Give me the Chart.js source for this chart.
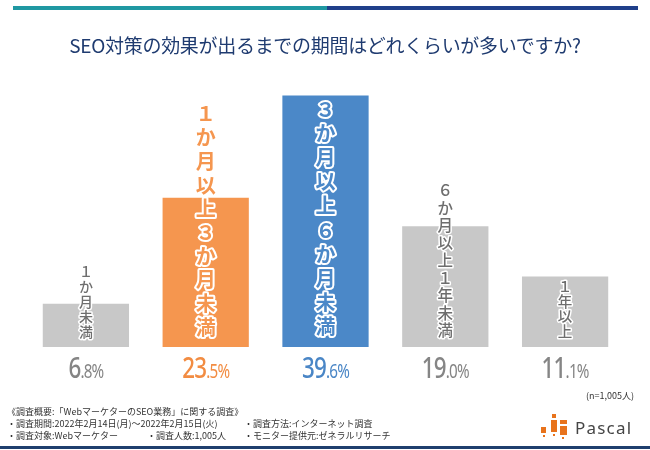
<!DOCTYPE html>
<html lang="ja">
<head>
<meta charset="utf-8">
<title>SEO対策の効果が出るまでの期間</title>
<script src="https://cdn.jsdelivr.net/npm/chart.js@4.4.1/dist/chart.umd.min.js"></script>
<style>
  html, body { margin: 0; padding: 0; background: #fff; }
  #wrap { position: relative; width: 650px; height: 450px; overflow: hidden; font-family: "Noto Sans CJK JP", "Noto Sans", sans-serif; }
  #chart { position: absolute; left: 0; top: 0; }
  .bar-top { position: absolute; top: 6px; height: 4px; }
  #title { position: absolute; left: 0; width: 650px; top: 31px; text-align: center; font-size: 19px; color: #1f3b70; letter-spacing: -0.3px; }
  #n { position: absolute; right: 16px; top: 389px; font-size: 9px; color: #333; }
  .foot { position: absolute; font-size: 9px; color: #333; white-space: nowrap; line-height: 12px; }
  #bottomline { position: absolute; left: 0; width: 650px; top: 446px; height: 3px; background: #1f3f6e; }
  #logo-text { position: absolute; left: 575px; top: 416px; font-family: "Noto Sans", sans-serif; font-size: 17px; color: #454545; letter-spacing: 1.2px; }
  .px { position: absolute; background: #e8731c; }
</style>
</head>
<body>
<div id="wrap">
  <canvas id="chart" width="650" height="450"></canvas>
  <div class="bar-top" style="left:13px;width:314px;background:#1f98a2;"></div>
  <div class="bar-top" style="left:327px;width:311px;background:#1f3f8a;"></div>
  <div id="title">SEO対策の効果が出るまでの期間はどれくらいが多いですか?</div>
  <div id="n">(n=1,005人)</div>
  <div class="foot" style="left:7px;top:406px;">《調査概要:「WebマーケターのSEO業務」に関する調査》</div>
  <div class="foot" style="left:7px;top:418px;">・調査期間:2022年2月14日(月)～2022年2月15日(火)</div>
  <div class="foot" style="left:7px;top:430px;">・調査対象:Webマーケター</div>
  <div class="foot" style="left:147px;top:430px;">・調査人数:1,005人</div>
  <div class="foot" style="left:244px;top:418px;">・調査方法:インターネット調査</div>
  <div class="foot" style="left:244px;top:430px;">・モニター提供元:ゼネラルリサーチ</div>
  <!-- Pascal ロゴ -->
  <div class="px" style="left:541px;top:427px;width:5px;height:6px;"></div>
  <div class="px" style="left:543px;top:435px;width:2px;height:2px;"></div>
  <div class="px" style="left:552px;top:414px;width:4px;height:4px;"></div>
  <div class="px" style="left:551px;top:420px;width:6px;height:12px;"></div>
  <div class="px" style="left:553px;top:434px;width:2px;height:2px;"></div>
  <div class="px" style="left:560px;top:420px;width:7px;height:4px;"></div>
  <div class="px" style="left:560px;top:426px;width:7px;height:9px;"></div>
  <div class="px" style="left:562px;top:437px;width:2px;height:2px;"></div>
  <div id="logo-text">Pascal</div>
  <div id="bottomline"></div>
</div>

<script>
// データ
var categories = ["１か月未満", "１か月以上３か月未満", "３か月以上６か月未満", "６か月以上１年未満", "１年以上"];
var values = [6.8, 23.5, 39.6, 19.0, 11.1];
var yMax = 40;

// 色・文字サイズ
var barColors = ["#c8c8c8", "#f5964f", "#4b88c8", "#c8c8c8", "#c8c8c8"];
var valueColors = ["#858585", "#f28c42", "#4a86c6", "#858585", "#858585"];
var labelColors = ["#6e6e6e", "#f5964f", "#4b88c8", "#6e6e6e", "#6e6e6e"];
var labelSizes = [14, 20, 20, 15.5, 14.5];
var labelPitch = [15, 23.7, 24.2, 17.5, 15];

// 棒の中に縦書きラベル、下に数値を描く
var barTextPlugin = {
    id: "barText",
    afterDatasetsDraw: function (chart) {
        var ctx = chart.ctx;
        var meta = chart.getDatasetMeta(0);
        var bottom = chart.scales.y.getPixelForValue(0);

        meta.data.forEach(function (bar, i) {
            // 縦書きラベル
            var chars = Array.from(categories[i]);
            var size = labelSizes[i];
            var pitch = labelPitch[i];
            var big = size >= 18;
            ctx.save();
            ctx.font = (big ? "bold " : "500 ") + size + 'px "Noto Sans CJK JP"';
            ctx.textAlign = "center";
            ctx.textBaseline = "middle";
            ctx.lineJoin = "round";
            ctx.lineWidth = big ? 4 : 3;
            ctx.strokeStyle = "#ffffff";
            ctx.fillStyle = labelColors[i];
            chars.forEach(function (ch, k) {
                var cy = bottom - 8 - (chars.length - k - 0.5) * pitch;
                ctx.strokeText(ch, bar.x, cy);
                ctx.fillText(ch, bar.x, cy);
            });
            ctx.restore();

            // 数値ラベル(整数部は大きく、横に詰める)
            var parts = values[i].toFixed(1).split(".");
            var intPart = parts[0];
            var decPart = "." + parts[1] + "%";
            var sx = 0.8;
            ctx.save();
            ctx.letterSpacing = "-1px";
            ctx.fillStyle = valueColors[i];
            ctx.textBaseline = "alphabetic";
            ctx.textAlign = "left";
            var bigFont = '500 28px "Noto Sans", sans-serif';
            var smallFont = '19px "Noto Sans", sans-serif';
            ctx.font = bigFont;
            var w1 = ctx.measureText(intPart).width;
            ctx.font = smallFont;
            var w2 = ctx.measureText(decPart).width;
            var baseY = bottom + 31;
            ctx.translate(bar.x, baseY);
            ctx.scale(sx, 1);
            var x0 = -(w1 + w2) / 2;
            ctx.font = bigFont;
            ctx.fillText(intPart, x0, 0);
            ctx.font = smallFont;
            ctx.fillText(decPart, x0 + w1, 0);
            ctx.restore();
        });
    },
};

new Chart(document.getElementById("chart"), {
    type: "bar",
    data: {
        labels: categories,
        datasets: [
            {
                data: values,
                backgroundColor: barColors,
                borderWidth: 0,
                barPercentage: 0.72,
                categoryPercentage: 1,
            },
        ],
    },
    options: {
        responsive: false,
        animation: false,
        layout: {
            padding: { left: 26, right: 25, top: 93, bottom: 103 },
        },
        plugins: {
            legend: { display: false },
            tooltip: { enabled: false },
        },
        scales: {
            x: { display: false },
            y: { display: false, min: 0, max: yMax },
        },
    },
    plugins: [barTextPlugin],
});
</script>
</body>
</html>
